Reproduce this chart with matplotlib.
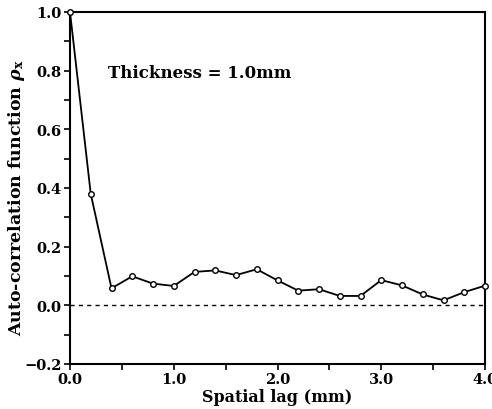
import numpy as np
import matplotlib.pyplot as plt
from matplotlib.ticker import MultipleLocator

lag = [0.0, 0.2, 0.4, 0.6, 0.8, 1.0, 1.2, 1.4, 1.6, 1.8, 2.0,
       2.2, 2.4, 2.6, 2.8, 3.0, 3.2, 3.4, 3.6, 3.8, 4.0]
rho = [1.0, 0.38, 0.058, 0.099, 0.074, 0.066, 0.114, 0.119, 0.103, 0.123, 0.085,
       0.050, 0.055, 0.032, 0.032, 0.086, 0.068, 0.037, 0.017, 0.045, 0.067]

xticks = [0.0, 1.0, 2.0, 3.0, 4.0]
yticks = [-0.2, 0.0, 0.2, 0.4, 0.6, 0.8, 1.0]

plt.rcParams['font.family'] = 'DejaVu Serif'
plt.rcParams['font.weight'] = 'bold'
plt.rcParams['mathtext.fontset'] = 'dejavuserif'

fig = plt.figure(figsize=(4.92, 4.10), dpi=100)
ax = fig.add_axes([70 / 492, 1 - 365 / 410, 415 / 492, 352 / 410])

ax.plot(lag, rho, color='black', linewidth=1.3, marker='o', markersize=4,
        markerfacecolor='white', markeredgecolor='black', markeredgewidth=1.0,
        clip_on=False, zorder=3)
ax.axhline(0.0, color='black', linewidth=1.0, linestyle=(0, (3, 3)))

ax.set_xlim(0, 4.0)
ax.set_ylim(-0.2, 1.0)
ax.set_xticks(xticks)
ax.set_xticklabels([f"{t:.1f}" for t in xticks])
ax.set_yticks(yticks)
ax.set_yticklabels([f"{t:.1f}".replace('-', '\u2212') for t in yticks])
ax.xaxis.set_minor_locator(MultipleLocator(0.5))
ax.yaxis.set_minor_locator(MultipleLocator(0.1))
ax.tick_params(which='both', direction='out', length=4, width=1.2,
               labelsize=10.5, pad=2)
for s in ax.spines.values():
    s.set_linewidth(1.5)

ax.set_xlabel('Spatial lag (mm)', fontsize=11.5, fontweight='bold', labelpad=1)
ax.set_ylabel(r'Auto-correlation function $\rho_{\mathbf{x}}$', fontsize=12.5,
              fontweight='bold', va='center')
ax.yaxis.set_label_coords(-0.128, 0.474)
ax.text(0.37, 0.795, 'Thickness = 1.0mm', fontsize=12, fontweight='bold',
        va='center', ha='left')

fig.savefig('out.png', dpi=100)
